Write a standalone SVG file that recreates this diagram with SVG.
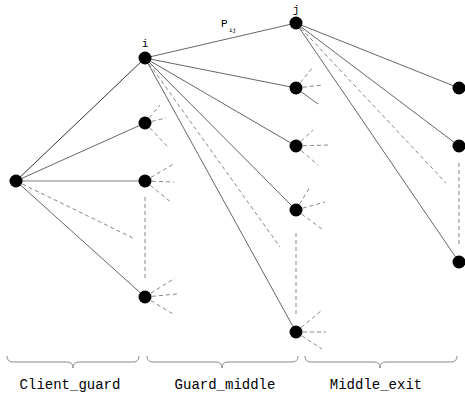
<svg xmlns="http://www.w3.org/2000/svg" width="465" height="394" viewBox="0 0 465 394">
<style>
.s{stroke:#666;stroke-width:1;fill:none}
.d{stroke:#888;stroke-width:1;stroke-dasharray:4 3;fill:none}
.n{fill:#000}
.b{stroke:#888;stroke-width:1;fill:none}
.lbl{font-family:"Liberation Mono","DejaVu Sans Mono",monospace;font-size:14px;fill:#000;text-anchor:middle}
.nl{font-family:"Liberation Mono","DejaVu Sans Mono",monospace;font-size:11px;fill:#000;text-anchor:middle}
</style>
<rect width="465" height="394" fill="#fff"/>
<g id="connectors">
  <line class="s" x1="16" y1="181" x2="145" y2="58" style="stroke:#333"/>
  <line class="s" x1="16" y1="181" x2="145" y2="123"/>
  <line class="s" x1="16" y1="181" x2="145" y2="181" style="stroke:#aaa;stroke-width:1.4"/>
  <line class="s" x1="16" y1="181" x2="145" y2="297"/>
  <line class="d" x1="16" y1="181" x2="135" y2="239"/>
  <line class="s" x1="145" y1="58" x2="296" y2="23"/>
  <line class="s" x1="145" y1="58" x2="296" y2="88"/>
  <line class="s" x1="145" y1="58" x2="296" y2="146"/>
  <line class="s" x1="145" y1="58" x2="296" y2="210"/>
  <line class="s" x1="145" y1="58" x2="296" y2="332"/>
  <line class="d" x1="145" y1="58" x2="280" y2="247"/>
  <line class="s" x1="296" y1="23" x2="459" y2="88"/>
  <line class="s" x1="296" y1="23" x2="459" y2="146"/>
  <line class="s" x1="296" y1="23" x2="459" y2="262"/>
  <line class="d" x1="296" y1="23" x2="446" y2="183"/>
  <line class="d" x1="145" y1="197" x2="145" y2="281"/>
  <line class="d" x1="296" y1="233" x2="296" y2="316"/>
  <line class="d" x1="459" y1="163" x2="459" y2="246"/>
  <path class="d" d="M145 123L160 105M145 123L166 118M145 123L168 147"/>
  <path class="d" d="M145 181L175 163M145 181L174 182M145 181L172 203"/>
  <path class="d" d="M145 297L175 278M145 297L177 294M145 297L173 314"/>
  <path class="d" d="M296 88L313 67M296 88L323 85"/>
  <line class="s" x1="296" y1="88" x2="318" y2="104"/>
  <path class="d" d="M296 146L313 130M296 146L329 145M296 146L318 165"/>
  <path class="d" d="M296 210L310 187M296 210L325 202M296 210L322 229"/>
  <path class="d" d="M296 332L322 310M296 332L326 332M296 332L322 349"/>
</g>
<g id="client"><circle class="n" cx="16" cy="181" r="6.5"/></g>
<g id="guard-i"><circle class="n" cx="145" cy="58" r="6.5"/><text class="nl" x="145" y="47">i</text></g>
<g id="guard-2"><circle class="n" cx="145" cy="123" r="6.5"/></g>
<g id="guard-3"><circle class="n" cx="145" cy="181" r="6.5"/></g>
<g id="guard-4"><circle class="n" cx="145" cy="297" r="6.5"/></g>
<g id="middle-j"><circle class="n" cx="296" cy="23" r="6.5"/><text class="nl" x="296" y="13">j</text></g>
<g id="middle-2"><circle class="n" cx="296" cy="88" r="6.5"/></g>
<g id="middle-3"><circle class="n" cx="296" cy="146" r="6.5"/></g>
<g id="middle-4"><circle class="n" cx="296" cy="210" r="6.5"/></g>
<g id="middle-5"><circle class="n" cx="296" cy="332" r="6.5"/></g>
<g id="exit-1"><circle class="n" cx="459" cy="88" r="6.5"/></g>
<g id="exit-2"><circle class="n" cx="459" cy="146" r="6.5"/></g>
<g id="exit-3"><circle class="n" cx="459" cy="262" r="6.5"/></g>
<g id="pij-label"><text x="221" y="27" style="font-family:'Liberation Mono',monospace;font-size:11px;fill:#000">P</text><text x="229" y="32" style="font-family:'Liberation Mono',monospace;font-size:6px;fill:#000">ij</text></g>
<g id="braces">
  <path class="b" d="M7 356Q7 362 13 362L67 362Q73 362 73 368Q73 362 79 362L133 362Q139 362 139 356"/>
  <path class="b" d="M147 356Q147 362 153 362L216 362Q222 362 222 368Q222 362 228 362L292 362Q298 362 298 356"/>
  <path class="b" d="M305 356Q305 362 311 362L374 362Q380 362 380 368Q380 362 386 362L451 362Q457 362 457 356"/>
</g>
<g id="labels">
  <text class="lbl" x="70" y="389">Client_guard</text>
  <text class="lbl" x="225" y="389">Guard_middle</text>
  <text class="lbl" x="376" y="389">Middle_exit</text>
</g>
</svg>
